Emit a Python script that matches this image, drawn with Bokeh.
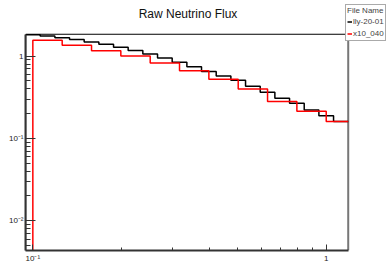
from bokeh.plotting import figure
from bokeh.models import Range1d, FixedTicker, Legend, LegendItem, Label
from bokeh.embed import file_html
from bokeh.resources import INLINE

# ---- data ----
black_edges = [0.0944, 0.1059, 0.1189, 0.1334, 0.1496, 0.1679, 0.1884, 0.2113,
               0.2371, 0.2661, 0.2985, 0.3350, 0.3758, 0.4217, 0.4732, 0.5309,
               0.5957, 0.6683, 0.7499, 0.8414, 0.9441, 1.0593, 1.1885]
black_values = [1.816, 1.751, 1.670, 1.589, 1.487, 1.395, 1.283, 1.165, 1.057,
                0.946, 0.840, 0.743, 0.651, 0.574, 0.507, 0.429, 0.363, 0.308,
                0.268, 0.221, 0.189, 0.160]
red_edges = [0.1, 0.1259, 0.1585, 0.1995, 0.2512, 0.3162, 0.3981, 0.5012,
             0.6310, 0.7943, 1.0, 1.2589]
red_values = [1.56, 1.357, 1.158, 1.0, 0.823, 0.663, 0.524, 0.397, 0.281,
              0.213, 0.160]
series_names = ["lly-20-01", "x10_040"]
legend_title = "File Name"
title_text = "Raw Neutrino Flux"

x_major = [0.1, 1.0]
x_minor = [0.2, 0.3, 0.4, 0.5, 0.6, 0.7, 0.8, 0.9]
y_major = [0.01, 0.1, 1.0]
y_minor = [0.005, 0.006, 0.007, 0.008, 0.009,
           0.02, 0.03, 0.04, 0.05, 0.06, 0.07, 0.08, 0.09,
           0.2, 0.3, 0.4, 0.5, 0.6, 0.7, 0.8, 0.9]
x_labels = {0.1: "10\u207b\u00b9", 1.0: "1"}
y_labels = {0.01: "10\u207b\u00b2", 0.1: "10\u207b\u00b9", 1.0: "1"}

# axis (histogram pad) limits and the wider view that also holds title and legend
x_lo, x_hi = black_edges[0], black_edges[-1]
y_lo, y_hi = 0.00435, 1.84
x_view_end, y_view_end = 1.605, 4.73

FONT = "Liberation Sans"

p = figure(width=386, height=265, x_axis_type="log", y_axis_type="log",
           x_range=Range1d(x_lo, x_view_end),
           y_range=Range1d(y_lo, y_view_end),
           output_backend="svg", toolbar_location=None,
           min_border_left=25, min_border_right=0,
           min_border_top=0, min_border_bottom=13)
p.title = None
p.grid.visible = False
p.outline_line_color = None
p.background_fill_color = "white"
p.border_fill_color = "white"


def step_xy(edges, values, floor, right_limit):
    xs = [edges[0]] + [min(e, right_limit) for e in edges]
    ys = [floor] + list(values) + [values[-1]]
    return xs, ys


# frame lines (top black, right grey) of the histogram pad
p.segment(x0=[x_lo], y0=[y_hi], x1=[x_hi], y1=[y_hi], line_color="black", line_width=1)
p.segment(x0=[x_hi], y0=[y_lo], x1=[x_hi], y1=[y_hi], line_color="#777777", line_width=2)

bx, by = step_xy(black_edges, black_values, y_lo, x_hi)
rx, ry = step_xy(red_edges, red_values, y_lo, x_hi)
rb = p.step(bx, by, mode="after", line_color="black", line_width=1.5)
rr = p.step(rx, ry, mode="after", line_color="#ff0000", line_width=1.5)

xa = p.xaxis[0]
ya = p.yaxis[0]
xa.ticker = FixedTicker(ticks=x_major, minor_ticks=x_minor)
ya.ticker = FixedTicker(ticks=y_major, minor_ticks=y_minor)
xa.bounds = (x_lo, x_hi)
ya.bounds = (y_lo, y_hi)
xa.major_label_overrides = x_labels
ya.major_label_overrides = y_labels
for ax in (xa, ya):
    ax.axis_line_color = "#333333"
    ax.axis_line_width = 2
    ax.major_tick_line_color = "#333333"
    ax.minor_tick_line_color = "#333333"
    ax.major_tick_out = 0
    ax.minor_tick_out = 0
    ax.major_label_text_font = FONT
    ax.major_label_text_font_size = "8px"
    ax.major_label_text_color = "#222222"
xa.major_tick_in = 6
xa.minor_tick_in = 3
xa.major_label_standoff = 3
ya.major_tick_in = 10
ya.minor_tick_in = 5
ya.major_label_standoff = 2

p.add_layout(Label(x=162.5, y=237, x_units="screen", y_units="screen",
                   text=title_text, text_align="center", text_baseline="middle",
                   text_font=FONT, text_font_size="12px", text_color="#111111"))

legend = Legend(items=[LegendItem(label=series_names[0], renderers=[rb]),
                       LegendItem(label=series_names[1], renderers=[rr])],
                title=legend_title, location=(320, 209),
                border_line_color="#555555", border_line_width=1,
                background_fill_color="white", background_fill_alpha=1,
                padding=1, spacing=1, margin=0,
                glyph_width=5, glyph_height=11, label_height=11,
                label_standoff=1, label_text_font=FONT, label_text_font_size="8px",
                title_text_font=FONT, title_text_font_size="8px",
                title_text_font_style="normal", title_standoff=1)
p.add_layout(legend)

open("out.html", "w").write(file_html(p, INLINE))
